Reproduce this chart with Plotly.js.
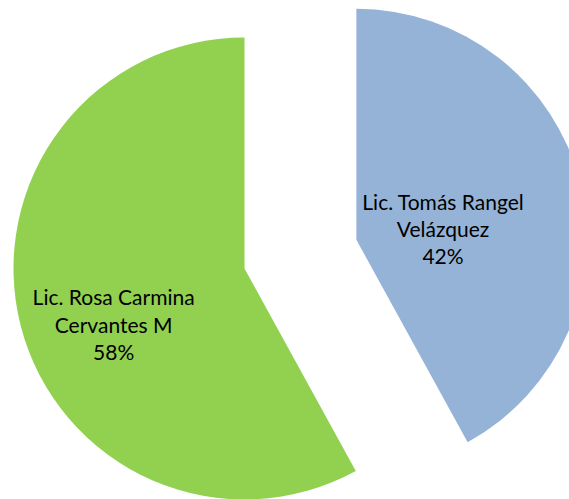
<!DOCTYPE html>
<html>
<head>
<meta charset="utf-8">
<script src="https://cdn.plot.ly/plotly-3.0.1.min.js"></script>
<style>
html,body{margin:0;padding:0;overflow:hidden;width:569px;height:499px;background:#fff;}
#chart{position:absolute;left:-102px;top:-78px;width:693px;height:693px;}
</style>
</head>
<body>
<div id="chart"></div>
<script>
const labels = ["Lic. Tomás Rangel<br>Velázquez", "Lic. Rosa Carmina<br>Cervantes M"];
const values = [42, 58];
const colors = ["#95B3D7", "#92D050"];
const pulls = [0.5, 0];
// small offsets for the inside labels (px), to match the reference placement
const labelNudge = [[-27, 18], [-19, 27]];

Plotly.newPlot("chart", [{
  type: "pie",
  labels: labels,
  values: values,
  pull: pulls,
  sort: false,
  direction: "clockwise",
  rotation: 0,
  marker: {colors: colors, line: {width: 0}},
  texttemplate: "%{label}<br>%{percent:.0%}",
  textposition: "inside",
  insidetextorientation: "horizontal",
  textfont: {family: "Lato, Open Sans, sans-serif", size: 21, color: "#000"},
  hoverinfo: "none"
}], {
  width: 693, height: 693,
  margin: {l: 0, r: 0, t: 0, b: 0},
  showlegend: false,
  uniformtext: {minsize: 21, mode: "show"},
  paper_bgcolor: "#fff"
}, {displayModeBar: false, staticPlot: true}).then(function (gd) {
  const groups = gd.querySelectorAll("g.slice g.slicetext");
  groups.forEach(function (g, i) {
    if (labelNudge[i]) g.setAttribute("transform", "translate(" + labelNudge[i][0] + "," + labelNudge[i][1] + ")");
  });
});
</script>
</body>
</html>
